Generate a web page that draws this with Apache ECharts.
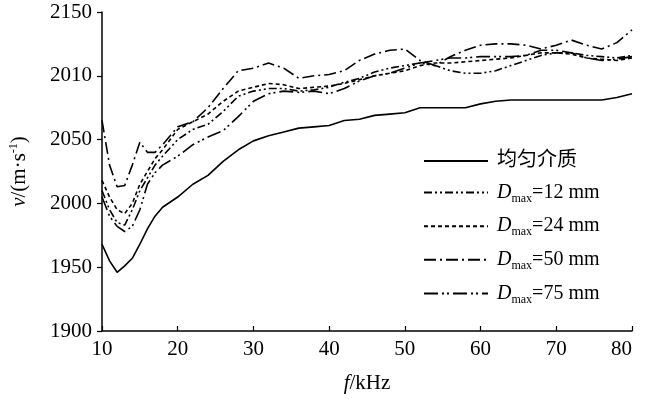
<!DOCTYPE html>
<html>
<head>
<meta charset="utf-8">
<script src="https://cdn.jsdelivr.net/npm/echarts@6/dist/echarts.min.js"></script>
<style>
  html, body { margin: 0; padding: 0; background: #fff; }
  #chart { width: 649px; height: 399px; }
</style>
</head>
<body>
<div id="chart"></div>
<script>
// frequency points (kHz)
var freq = [10, 11, 12, 13, 14, 15, 16, 17, 18, 20, 22, 24, 26, 28, 30, 32, 34, 36, 38, 40,
            42, 44, 46, 48, 50, 52, 54, 56, 58, 60, 62, 64, 66, 68, 70, 72, 74, 76, 78, 80];

// wave velocity (m/s)
var homogeneous = [1968, 1955, 1946, 1951, 1957, 1968, 1980, 1990, 1997, 2005, 2015, 2022, 2033, 2042, 2049, 2053, 2056, 2059, 2060, 2061,
                   2065, 2066, 2069, 2070, 2071, 2075, 2075, 2075, 2075, 2078, 2080, 2081, 2081, 2081, 2081, 2081, 2081, 2081, 2083, 2086];
var dmax12 = [2010, 1995, 1985, 1983, 1995, 2010, 2020, 2030, 2037, 2050, 2058, 2062, 2072, 2084, 2088, 2090, 2090, 2088, 2089, 2091,
              2095, 2098, 2103, 2106, 2108, 2110, 2108, 2104, 2102, 2102, 2104, 2108, 2112, 2116, 2118, 2118, 2116, 2115, 2114, 2116];
var dmax24 = [2018, 2005, 1995, 1992, 2000, 2015, 2025, 2035, 2042, 2058, 2064, 2070, 2080, 2088, 2091, 2094, 2093, 2090, 2091, 2092,
              2094, 2097, 2100, 2102, 2104, 2108, 2110, 2110, 2111, 2112, 2113, 2114, 2116, 2118, 2118, 2117, 2114, 2113, 2112, 2114];
var dmax50 = [2065, 2030, 2013, 2014, 2030, 2048, 2040, 2040, 2046, 2060, 2064, 2075, 2090, 2104, 2106, 2110, 2106, 2098, 2100, 2101,
              2104, 2112, 2117, 2120, 2121, 2112, 2108, 2115, 2120, 2124, 2125, 2125, 2124, 2121, 2124, 2128, 2124, 2121, 2126, 2136];
var dmax75 = [2005, 1990, 1982, 1978, 1982, 1995, 2015, 2024, 2030, 2037, 2046, 2052, 2057, 2068, 2080, 2086, 2088, 2087, 2088, 2086,
              2090, 2096, 2100, 2102, 2106, 2110, 2112, 2114, 2114, 2115, 2115, 2115, 2116, 2120, 2120, 2118, 2114, 2112, 2113, 2115];

var seriesNames = ['均匀介质', 'Dmax=12 mm', 'Dmax=24 mm', 'Dmax=50 mm', 'Dmax=75 mm'];
var yTickLabels = ['1900', '1950', '2000', '2050', '2010', '2150'];

var serif = "'Liberation Serif', 'Times New Roman', 'Noto Sans CJK SC', serif";

function pairs(values) {
  return freq.map(function (f, i) { return [f, values[i]]; });
}

var dashes = ['solid', [8, 3, 2, 3, 2, 3], [4, 3], [12, 4, 2, 4], [14, 4, 2, 3, 2, 4]];
var allValues = [homogeneous, dmax12, dmax24, dmax50, dmax75];

var chart = echarts.init(document.getElementById('chart'));

chart.setOption({
  animation: false,
  backgroundColor: '#fff',
  grid: { left: 101, right: 17, top: 12, bottom: 68 },
  legend: {
    orient: 'vertical',
    left: 418,
    top: 146,
    itemWidth: 64,
    itemHeight: 14,
    itemGap: 11.6,
    selectedMode: false,
    itemStyle: { opacity: 0 },
    data: seriesNames,
    formatter: function (name) {
      if (name.indexOf('Dmax') === 0) {
        return '{i|D}{sub|max}{n|' + name.slice(4) + '}';
      }
      return '{n|' + name + '}';
    },
    textStyle: {
      fontFamily: serif,
      fontSize: 20,
      color: '#000',
      padding: [0, 0, 0, 4],
      rich: {
        n: { fontFamily: serif, fontSize: 20, color: '#000' },
        i: { fontFamily: serif, fontSize: 20, fontStyle: 'italic', color: '#000' },
        sub: { fontFamily: serif, fontSize: 12, color: '#000', padding: [12, 0, 0, 0] }
      }
    }
  },
  xAxis: {
    type: 'value',
    min: 10,
    max: 80,
    interval: 10,
    name: '{i|f}{n|/kHz}',
    nameLocation: 'middle',
    nameGap: 42,
    nameTextStyle: {
      rich: {
        i: { fontFamily: serif, fontSize: 21, fontStyle: 'italic', color: '#000' },
        n: { fontFamily: serif, fontSize: 21, color: '#000' }
      }
    },
    axisLine: { lineStyle: { color: '#000', width: 1.5 } },
    axisTick: { inside: true, length: 5, lineStyle: { color: '#000', width: 1.2 } },
    axisLabel: { fontFamily: serif, fontSize: 21, color: '#000', margin: 8, alignMaxLabel: 'right' },
    splitLine: { show: false }
  },
  yAxis: {
    type: 'value',
    min: 1900,
    max: 2150,
    interval: 50,
    name: '{i|v}{n|/(m·s}{sup|-1}{n|)}',
    nameLocation: 'middle',
    nameRotate: 90,
    nameGap: 72,
    nameTextStyle: {
      rich: {
        i: { fontFamily: serif, fontSize: 21, fontStyle: 'italic', color: '#000' },
        n: { fontFamily: serif, fontSize: 21, color: '#000' },
        sup: { fontFamily: serif, fontSize: 12, color: '#000', padding: [0, 0, 10, 0] }
      }
    },
    axisLine: { show: true, lineStyle: { color: '#000', width: 1.5 } },
    axisTick: { show: true, length: 5, lineStyle: { color: '#000', width: 1.2 } },
    axisLabel: {
      fontFamily: serif, fontSize: 21, color: '#000', margin: 10,
      formatter: function (val) {
        return yTickLabels[Math.round((val - 1900) / 50)];
      }
    },
    splitLine: { show: false }
  },
  series: seriesNames.map(function (name, i) {
    return {
      name: name,
      type: 'line',
      symbol: 'none',
      color: '#000',
      lineStyle: { color: '#000', width: 1.6, type: dashes[i] },
      data: pairs(allValues[i])
    };
  })
});
</script>
</body>
</html>
